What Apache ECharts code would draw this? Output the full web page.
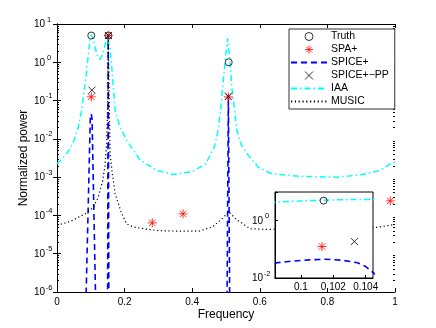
<!DOCTYPE html>
<html>
<head>
<meta charset="utf-8">
<script src="https://cdn.jsdelivr.net/npm/echarts@6/dist/echarts.min.js"></script>
<style>html,body{margin:0;padding:0;background:#fff;}#c{width:436px;height:328px;}</style>
</head>
<body>
<div id="c"></div>
<script>
// ---- data ----
const iaaFreq  = [0, 0.02, 0.033, 0.05, 0.063, 0.072, 0.078, 0.085, 0.093, 0.0985, 0.1, 0.1015, 0.103, 0.1045, 0.108, 0.113, 0.12, 0.127, 0.135, 0.143, 0.149, 0.152, 0.156, 0.162, 0.172, 0.185, 0.206, 0.246, 0.295, 0.344, 0.40, 0.44, 0.465, 0.477, 0.485, 0.49, 0.498, 0.505, 0.512, 0.517, 0.525, 0.532, 0.545, 0.566, 0.596, 0.635, 0.72, 0.827, 0.9, 0.956, 0.985, 1.0];
const iaaPower = [2.2e-3, 3.4e-3, 4.6e-3, 9e-3, 0.02, 0.05, 0.126, 0.35, 1.7, 4.4, 4.9, 5.2, 5.45, 5.5, 4.0, 2.4, 1.4, 1.19, 1.6, 3.0, 4.6, 5.0, 2.6, 0.76, 0.056, 0.022, 9.1e-3, 2.8e-3, 1.5e-3, 1.17e-3, 1.4e-3, 2.2e-3, 6e-3, 0.017, 0.07, 0.23, 1.2, 4.2, 1.0, 0.23, 0.06, 0.017, 7e-3, 3.7e-3, 1.8e-3, 1.23e-3, 1.05e-3, 1.0e-3, 1.15e-3, 1.5e-3, 2.2e-3, 2.5e-3];

const musicFreq  = [0, 0.04, 0.083, 0.107, 0.122, 0.135, 0.142, 0.147, 0.150, 0.1515, 0.154, 0.157, 0.164, 0.172, 0.19, 0.206, 0.226, 0.255, 0.30, 0.35, 0.42, 0.46, 0.49, 0.508, 0.53, 0.571, 0.62, 0.70, 0.80, 0.90, 0.946, 1.0];
const musicPower = [5.5e-5, 7e-5, 1.1e-4, 1.6e-4, 3e-4, 8e-4, 2e-3, 8e-3, 0.1, 5, 0.2, 4e-3, 1.2e-3, 3.7e-4, 1.2e-4, 6e-5, 5e-5, 4.5e-5, 4e-5, 3.9e-5, 3.9e-5, 5e-5, 8.5e-5, 1.25e-4, 8e-5, 4.5e-5, 4.3e-5, 4.5e-5, 4.6e-5, 4.7e-5, 4.9e-5, 5.8e-5];

const spiceFreq  = [0.0855, 0.0985, 0.0995, 0.1005, 0.1015, 0.1025, 0.1035, 0.104, 0.1145, 0.1495, 0.1515, 0.1535, 0.5025, 0.507, 0.5115];
const spicePower = [5e-7, 0.034, 0.039, 0.043, 0.045, 0.042, 0.034, 0.025, 5e-7, 1e-7, 5.0, 1e-7, 1e-7, 0.125, 1e-7];

const truthFreq  = [0.1014, 0.152, 0.508];
const truthPower = [5.0, 5.0, 1.0];

const spaFreq  = [0.1013, 0.152, 0.282, 0.373, 0.507, 0.986];
const spaPower = [0.125, 5.0, 6.4e-5, 1.1e-4, 0.125, 2.4e-4];

const ppFreq  = [0.1033, 0.152, 0.507];
const ppPower = [0.187, 5.0, 0.13];

const xTickLabels = ['0', '0.2', '0.4', '0.6', '0.8', '1'];
const insetXTicks = [0.1, 0.102, 0.104];
const insetXTickLabels = ['0.1', '0.102', '0.104'];
const insetYLabelExps = [-2, 0];
const minorMultipliers = [2, 3, 4, 5, 6, 7, 8, 9];
const decadeStarts = [1e-6, 1e-5, 1e-4, 1e-3, 1e-2, 1e-1, 1];

const legendNames = ['Truth', 'SPA+', 'SPICE+', 'SPICE+\u2212PP', 'IAA', 'MUSIC'];
const legendLineNames = ['SPICE+', 'IAA', 'MUSIC'];

// ---- helpers ----
const zip = (a, b) => a.map((v, i) => [v, b[i]]);
const FONT = 'Liberation Sans';
const supFmt = v => {
  const e = Math.round(Math.log10(v));
  return '{b|10}{e|' + (e < 0 ? '-' + (-e) : e) + '}';
};
const supRich = {
  b: { fontSize: 10, fontFamily: FONT, color: '#000', verticalAlign: 'bottom' },
  e: { fontSize: 7.5, fontFamily: FONT, color: '#000', width: 8, align: 'left', verticalAlign: 'bottom', padding: [0, 0, 6, 0] }
};
const minorVals = [];
decadeStarts.forEach(d => minorMultipliers.forEach(m => minorVals.push([0, d * m])));

const ASTERISK = 'path://M0,-1L0,1M-1,0L1,0M-0.72,-0.72L0.72,0.72M-0.72,0.72L0.72,-0.72';
const CROSS = 'path://M-1,-1L1,1M-1,1L1,-1';
const CLEAR = 'rgba(0,0,0,0)';

const axisLine = { show: true, lineStyle: { color: '#000', width: 1 } };
const tickIn = { show: true, inside: true, length: 4, lineStyle: { color: '#000', width: 1 } };

const chart = echarts.init(document.getElementById('c'), null, { renderer: 'canvas' });

function mkSeries(xi, yi, z) {
  const base = { xAxisIndex: xi, yAxisIndex: yi, z: z, animation: false, silent: true };
  return [
    Object.assign({}, base, { name: 'Truth', type: 'scatter', data: zip(truthFreq, truthPower), symbol: 'circle', symbolSize: 7,
      itemStyle: { color: CLEAR, borderColor: '#000', borderWidth: 1 }, z: z + 1 }),
    Object.assign({}, base, { name: 'SPA+', type: 'scatter', data: zip(spaFreq, spaPower), symbol: ASTERISK, symbolSize: 9,
      itemStyle: { color: CLEAR, borderColor: '#ff0000', borderWidth: 1 }, z: z + 1 }),
    Object.assign({}, base, { name: 'SPICE+', type: 'line', data: zip(spiceFreq, spicePower), symbol: 'none', showSymbol: false,
      lineStyle: { color: '#0000ff', width: 1.6, type: [6, 4] }, itemStyle: { color: '#0000ff' } }),
    Object.assign({}, base, { name: 'SPICE+\u2212PP', type: 'scatter', data: zip(ppFreq, ppPower), symbol: CROSS, symbolSize: 7,
      itemStyle: { color: CLEAR, borderColor: '#000', borderWidth: 1 }, z: z + 1 }),
    Object.assign({}, base, { name: 'IAA', type: 'line', data: zip(iaaFreq, iaaPower), symbol: 'none', showSymbol: false,
      lineStyle: { color: '#00ffff', width: 1.5, type: [6, 3, 1.5, 3] }, itemStyle: { color: '#00ffff' } }),
    Object.assign({}, base, { name: 'MUSIC', type: 'line', data: zip(musicFreq, musicPower), symbol: 'none', showSymbol: false,
      lineStyle: { color: '#000', width: 1.2, type: [1.2, 2.6] }, itemStyle: { color: '#000' } })
  ];
}

const legendMarkerStyle = {
  'Truth': { color: CLEAR, borderColor: '#000', borderWidth: 1 },
  'SPA+': { color: CLEAR, borderColor: '#ff0000', borderWidth: 1 },
  'SPICE+\u2212PP': { color: CLEAR, borderColor: '#000', borderWidth: 1 }
};

const option = {
  animation: false,
  textStyle: { fontFamily: FONT, color: '#000' },
  grid: [
    { left: 57, top: 24, right: 41, bottom: 36, show: false },
    { left: 275, top: 192, width: 98, height: 86, show: true, backgroundColor: '#fff', borderColor: '#000', borderWidth: 1, z: 6 }
  ],
  legend: {
    data: legendNames.map(n => legendLineNames.indexOf(n) >= 0 ? { name: n, itemStyle: { opacity: 0 } } : { name: n, itemStyle: legendMarkerStyle[n] }),
    orient: 'vertical',
    left: 289, top: 29,
    padding: [1, 6, 1, 1],
    itemGap: 0,
    itemWidth: 36, itemHeight: 8,
    backgroundColor: '#fff', borderColor: '#333', borderWidth: 1, borderRadius: 0,
    textStyle: { fontSize: 10.5, fontFamily: FONT, color: '#000', lineHeight: 13, padding: [0, 0, 0, -1] },
    selectedMode: false,
    z: 20
  },
  xAxis: [
    { gridIndex: 0, type: 'value', min: 0, max: 1, interval: 0.2, position: 'bottom',
      axisLine: axisLine, axisTick: tickIn, splitLine: { show: false },
      axisLabel: { margin: 5, fontSize: 10, color: '#000', fontFamily: FONT, formatter: (v) => xTickLabels[Math.round(v / 0.2)] },
      name: 'Frequency', nameLocation: 'middle', nameGap: 17, nameMoveOverlap: false,
      nameTextStyle: { fontSize: 12, color: '#000', fontFamily: FONT } },
    { gridIndex: 0, type: 'value', min: 0, max: 1, interval: 0.2, position: 'top',
      axisLine: axisLine, axisTick: tickIn, splitLine: { show: false }, axisLabel: { show: false } },
    { gridIndex: 1, type: 'value', min: 0.0984, max: 0.10445, position: 'bottom', z: 7,
      axisLine: axisLine, splitLine: { show: false },
      axisTick: Object.assign({}, tickIn, { length: 3, customValues: insetXTicks }),
      axisLabel: { margin: 4, fontSize: 10, color: '#000', fontFamily: FONT, customValues: insetXTicks,
        formatter: (v) => { const i = insetXTicks.findIndex(t => Math.abs(t - v) < 1e-7); return i >= 0 ? insetXTickLabels[i] : ''; } } }
  ],
  yAxis: [
    { gridIndex: 0, type: 'log', logBase: 10, min: 1e-6, max: 10, interval: 1, position: 'left',
      axisLine: axisLine, axisTick: tickIn, splitLine: { show: false },
      axisLabel: { margin: 4, formatter: supFmt, rich: supRich, padding: [0, 0, 3, 0] },
      name: 'Normalized power', nameLocation: 'middle', nameGap: 27, nameMoveOverlap: false,
      nameTextStyle: { fontSize: 12, color: '#000', fontFamily: FONT } },
    { gridIndex: 0, type: 'log', logBase: 10, min: 1e-6, max: 10, interval: 1, position: 'right',
      axisLine: axisLine, axisTick: tickIn, splitLine: { show: false }, axisLabel: { show: false } },
    { gridIndex: 1, type: 'log', logBase: 10, min: 0.01, max: 10, interval: 2, position: 'left', z: 7,
      axisLine: axisLine, axisTick: Object.assign({}, tickIn, { length: 3 }), splitLine: { show: false },
      axisLabel: { margin: 4, rich: supRich, padding: [0, 0, 3, 0],
        formatter: (v) => { const e = Math.round(Math.log10(v)); return insetYLabelExps.indexOf(e) >= 0 && Math.abs(Math.log10(v) - e) < 1e-6 ? supFmt(v) : ''; } } }
  ],
  series: [].concat(
    mkSeries(0, 0, 2),
    mkSeries(2, 2, 8),
    [{
      type: 'custom', xAxisIndex: 0, yAxisIndex: 0, z: 3, silent: true, data: minorVals,
      renderItem: function (params, api) {
        const v = api.value(1);
        const pL = api.coord([0, v]);
        const pR = api.coord([1, v]);
        const y = Math.round(pL[1]) + 0.5;
        return { type: 'group', children: [
          { type: 'line', shape: { x1: pL[0], y1: y, x2: pL[0] + 2, y2: y }, style: { stroke: '#000', lineWidth: 1 } },
          { type: 'line', shape: { x1: pR[0], y1: y, x2: pR[0] - 2, y2: y }, style: { stroke: '#000', lineWidth: 1 } }
        ] };
      }
    }]
  )
};
chart.setOption(option);
</script>
</body>
</html>
